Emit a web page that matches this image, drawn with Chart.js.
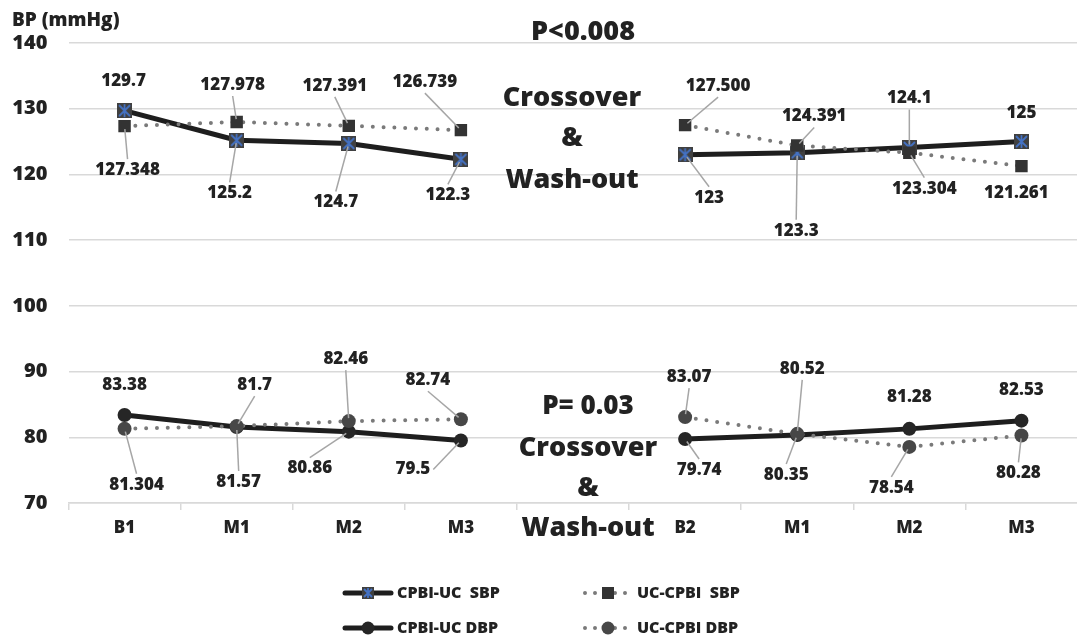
<!DOCTYPE html>
<html>
<head>
<meta charset="utf-8">
<script src="https://cdn.jsdelivr.net/npm/chart.js@4.4.1/dist/chart.umd.min.js"></script>
<style>
  html, body { margin: 0; padding: 0; background: #fff; overflow: hidden; }
  #wrap { width: 1090px; height: 641px; }
</style>
</head>
<body>
<div id="wrap"><canvas id="bpChart" width="1090" height="641"></canvas></div>
<script>
// categories (empty slot = crossover / wash-out gap)
const categories = ["B1", "M1", "M2", "M3", "", "B2", "M1", "M2", "M3"];
const yTicks = [70, 80, 90, 100, 110, 120, 130, 140];

// series
const cpbiUcSbp = [129.7, 125.2, 124.7, 122.3, null, 123, 123.3, 124.1, 125];
const ucCpbiSbp = [127.348, 127.978, 127.391, 126.739, null, 127.5, 124.391, 123.304, 121.261];
const cpbiUcDbp = [83.38, 81.57, 80.86, 79.5, null, 79.74, 80.35, 81.28, 82.53];
const ucCpbiDbp = [81.304, 81.7, 82.46, 82.74, null, 83.07, 80.52, 78.54, 80.28];

const FONT = "'Open Sans', 'Noto Sans', sans-serif";
const W = "800";
const TEXT = "#222222";
const DOT_GRAY = "#7a7a7a";

// data label placement: [dx, dy, leader line?] relative to the point
const sbpSolidLabels = [[-1,-30,0],[-7,53,1],[-13,59,1],[-13,36,1],null,[24,43,1],[-1,78,1],[0,-49,1],[0,-28,0]];
const sbpDotLabels   = [[3,44,1],[-4,-37,1],[-14,-40,1],[-36,-48,1],null,[33,-39,1],[17,-29,1],[15,36,1],[-5,27,0]];
const dbpSolidLabels = [[0,-30,0],[2,55,1],[-39,37,1],[-48,29,1],null,[14,31,1],[-11,40,1],[0,-32,0],[0,-31,0]];
const dbpDotLabels   = [[12,56,1],[18,-41,1],[-3,-62,1],[-33,-39,1],null,[4,-40,1],[5,-65,1],[-18,41,1],[-3,38,1]];

// Excel-like "star" marker: dark square with blue X and vertical bar
function makeStar(size) {
  const c = document.createElement("canvas");
  c.width = size; c.height = size;
  const g = c.getContext("2d");
  g.fillStyle = "#404040";
  g.fillRect(0, 0, size, size);
  g.strokeStyle = "#4472c4";
  g.lineWidth = 1.8;
  g.beginPath();
  g.moveTo(2, 2); g.lineTo(size - 2, size - 2);
  g.moveTo(size - 2, 2); g.lineTo(2, size - 2);
  g.moveTo(size / 2, 1); g.lineTo(size / 2, size - 1);
  g.stroke();
  return c;
}
const starMarker = makeStar(15);
const starLegend = makeStar(12);

const datasets = [
  {
    label: "CPBI-UC  SBP", data: cpbiUcSbp, order: 1,
    borderColor: "#1e1e1e", borderWidth: 5, borderJoinStyle: "round",
    pointStyle: starMarker, pointRadius: 7.5,
    labels: sbpSolidLabels, fmt: v => String(v),
    legend: { x: 345, y: 593, dotted: false, marker: starLegend }
  },
  {
    label: "UC-CPBI  SBP", data: ucCpbiSbp, order: 0,
    borderColor: DOT_GRAY, borderWidth: 4, borderDash: [0, 10.8], borderCapStyle: "round",
    pointStyle: "rect", pointRadius: 8.8, pointBackgroundColor: "#333333", pointBorderWidth: 0,
    labels: sbpDotLabels, fmt: v => v.toFixed(3),
    legend: { x: 585, y: 593, dotted: true }
  },
  {
    label: "CPBI-UC DBP", data: cpbiUcDbp, order: 1,
    borderColor: "#1e1e1e", borderWidth: 5, borderJoinStyle: "round",
    pointStyle: "circle", pointRadius: 7, pointBackgroundColor: "#262626", pointBorderWidth: 0,
    labels: dbpSolidLabels, fmt: v => String(v),
    legend: { x: 345, y: 628, dotted: false }
  },
  {
    label: "UC-CPBI DBP", data: ucCpbiDbp, order: 0,
    borderColor: DOT_GRAY, borderWidth: 4, borderDash: [0, 10.8], borderCapStyle: "round",
    pointStyle: "circle", pointRadius: 7, pointBackgroundColor: "#474747", pointBorderWidth: 0,
    labels: dbpDotLabels, fmt: v => String(v),
    legend: { x: 585, y: 628, dotted: true }
  }
];

// value labels with grey leader lines
const dataLabels = {
  id: "dataLabels",
  afterDatasetsDraw(chart) {
    const ctx = chart.ctx;
    ctx.save();
    ctx.font = W + " 17px " + FONT;
    ctx.textAlign = "center";
    ctx.textBaseline = "middle";
    chart.data.datasets.forEach((ds, i) => {
      const meta = chart.getDatasetMeta(i);
      meta.data.forEach((pt, j) => {
        const v = ds.data[j];
        const pos = ds.labels[j];
        if (v == null || !pos) return;
        const lx = pt.x + pos[0], ly = pt.y + pos[1];
        const txt = ds.fmt(v);
        const w = ctx.measureText(txt).width;
        if (pos[2]) {
          let sx, sy;
          if (Math.abs(pos[0]) > Math.abs(pos[1]) * 1.3) {
            sx = pos[0] > 0 ? lx - w / 2 - 3 : lx + w / 2 + 3; sy = ly;
          } else {
            sx = lx; sy = pos[1] > 0 ? ly - 11 : ly + 11;
          }
          const d = Math.hypot(sx - pt.x, sy - pt.y);
          const ex = pt.x + (sx - pt.x) / d * 3, ey = pt.y + (sy - pt.y) / d * 3;
          ctx.strokeStyle = "#a6a6a6";
          ctx.lineWidth = 1.5;
          ctx.beginPath();
          ctx.moveTo(sx, sy);
          ctx.lineTo(ex, ey);
          ctx.stroke();
        }
        ctx.fillStyle = TEXT;
        ctx.fillText(txt, lx, ly);
      });
    });
    ctx.restore();
  }
};

// axis title, annotations and legend
const extras = {
  id: "extras",
  afterDraw(chart) {
    const ctx = chart.ctx;
    const cx = chart.scales.x.getPixelForValue(4);
    ctx.save();
    ctx.fillStyle = TEXT;
    ctx.textBaseline = "middle";

    ctx.textAlign = "left";
    ctx.font = W + " 19px " + FONT;
    ctx.fillText("BP (mmHg)", 12, 21);

    ctx.textAlign = "center";
    ctx.font = W + " 27px " + FONT;
    ctx.fillText("P<0.008", cx + 10, 32);
    ctx.fillText("Crossover", cx - 1, 98);
    ctx.fillText("&", cx - 1, 138);
    ctx.fillText("Wash-out", cx - 1, 180);

    ctx.font = W + " 26px " + FONT;
    ctx.fillText("P= 0.03", cx + 15, 407);
    ctx.font = W + " 27px " + FONT;
    ctx.fillText("Crossover", cx + 15, 448);
    ctx.fillText("&", cx + 15, 488);
    ctx.fillText("Wash-out", cx + 15, 528);

    // legend
    chart.data.datasets.forEach(ds => {
      const lg = ds.legend;
      const x0 = lg.x, x1 = lg.x + 46, mx = lg.x + 23, y = lg.y;
      ctx.save();
      ctx.strokeStyle = ds.borderColor;
      ctx.lineWidth = ds.borderWidth;
      ctx.lineCap = "round";
      if (lg.dotted) ctx.setLineDash([0, 10]);
      ctx.beginPath();
      ctx.moveTo(x0, y); ctx.lineTo(x1, y);
      ctx.stroke();
      ctx.restore();
      if (lg.marker) {
        ctx.drawImage(lg.marker, mx - lg.marker.width / 2, y - lg.marker.height / 2);
      } else if (ds.pointStyle === "rect") {
        ctx.fillStyle = ds.pointBackgroundColor;
        ctx.fillRect(mx - 6, y - 6, 12, 12);
      } else {
        ctx.fillStyle = ds.pointBackgroundColor;
        ctx.beginPath();
        ctx.arc(mx, y, 6.5, 0, Math.PI * 2);
        ctx.fill();
      }
      ctx.fillStyle = TEXT;
      ctx.textAlign = "left";
      ctx.font = W + " 16px " + FONT;
      ctx.fillText(ds.label, x1 + 6, y);
    });
    ctx.restore();
  }
};

Chart.defaults.font.family = FONT;

new Chart(document.getElementById("bpChart"), {
  type: "line",
  data: { labels: categories, datasets },
  options: {
    responsive: false,
    animation: false,
    events: [],
    layout: { padding: { top: 43, right: 4.5, left: 0, bottom: 0 } },
    plugins: { legend: { display: false }, tooltip: { enabled: false } },
    scales: {
      x: {
        offset: true,
        afterFit: s => { s.height = 138; },
        grid: { offset: true, drawOnChartArea: false, drawTicks: true, tickLength: 7, color: "#d9d9d9", lineWidth: 1.5 },
        border: { display: true, color: "#d9d9d9", width: 1.5 },
        ticks: { padding: 8, color: TEXT, autoSkip: false, maxRotation: 0, font: { size: 17, weight: W } }
      },
      y: {
        min: 70, max: 140,
        afterFit: s => { s.width = 68.5; },
        afterBuildTicks: s => { s.ticks = yTicks.map(v => ({ value: v })); },
        grid: { color: "#d9d9d9", lineWidth: 1.5, drawTicks: false },
        border: { display: false },
        ticks: { padding: 21, color: TEXT, font: { size: 20, weight: W } }
      }
    }
  },
  plugins: [dataLabels, extras]
});
</script>
</body>
</html>
